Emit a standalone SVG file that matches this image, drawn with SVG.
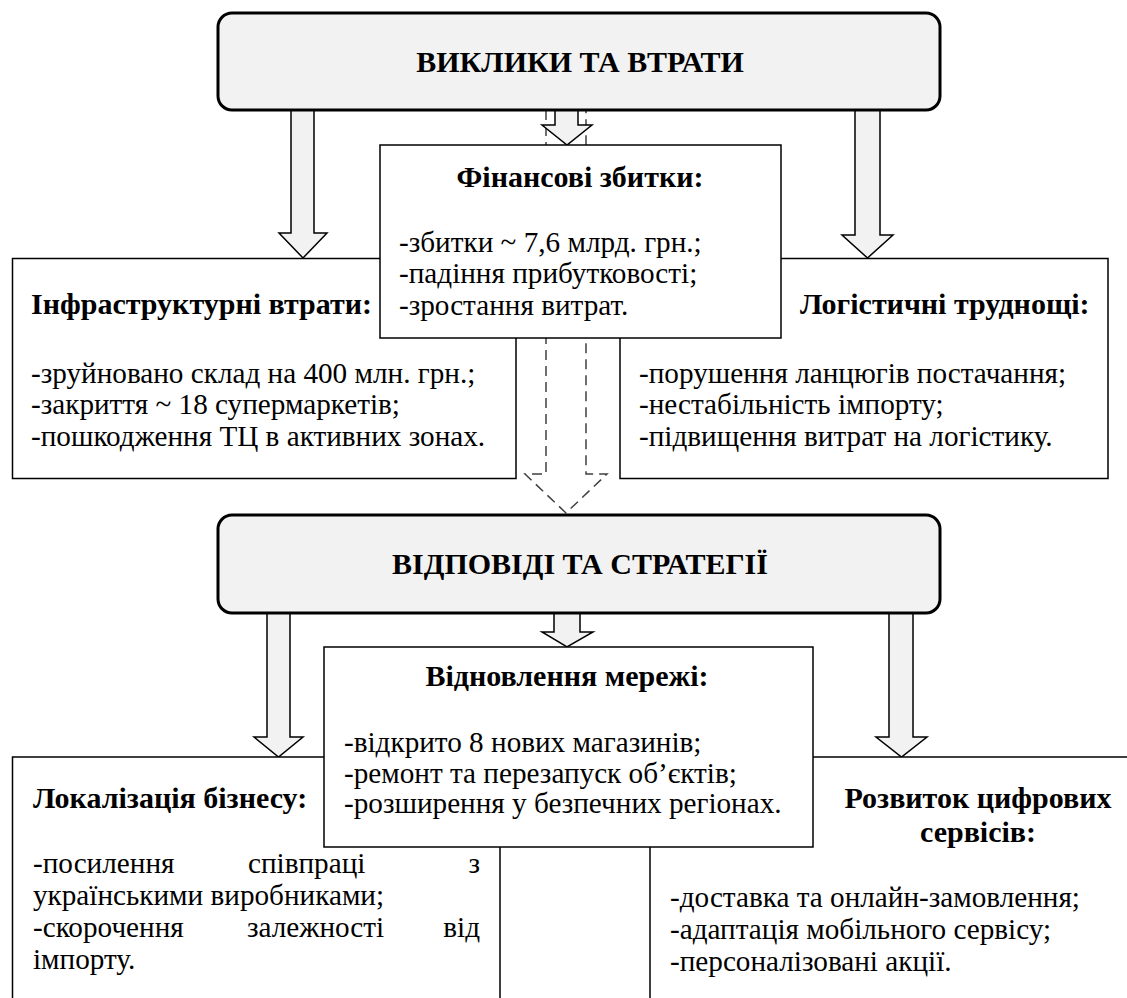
<svg xmlns="http://www.w3.org/2000/svg" width="1127" height="998" viewBox="0 0 1127 998" font-family="Liberation Serif" font-size="29.2">
<style>
.hdr{fill:#f2f2f2;stroke:#000;stroke-width:3}
.box{fill:#fff;stroke:#000;stroke-width:1.5}
.arr{fill:#f2f2f2;stroke:#000;stroke-width:1.5}
.dash{fill:none;stroke:#404040;stroke-width:1.5;stroke-dasharray:10 6}
</style>
<rect width="1127" height="998" fill="#fff"/>
<g id="connectors">
<polyline class="dash" points="546,110 546,474 525,474 566,513 607,474 586,474 586,110"/>
<polygon class="arr" points="291,110 314,110 314,233 327,233 303,258 279,233 291,233"/>
<polygon class="arr" points="855,110 880,110 880,235 893,235 867.5,258 842,235 855,235"/>
<polygon class="arr" points="555,110 578,110 578,125 592,125 567,145 542,125 555,125"/>
<polygon class="arr" points="267,613 290,613 290,737 303,737 278.5,757 254,737 267,737"/>
<polygon class="arr" points="889,613 913,613 913,737 927,737 901.5,757 876,737 889,737"/>
<polygon class="arr" points="554,613 580,613 580,632 593,632 567,647 542,632 554,632"/>
</g>
<g id="header1">
<rect class="hdr" x="218" y="13" width="722" height="97" rx="14"/>
<text font-family="Liberation Serif" font-size="30" font-weight="bold" text-anchor="middle" x="580" y="72">ВИКЛИКИ ТА ВТРАТИ</text>
</g>
<g id="infra">
<rect class="box" x="12.5" y="258.5" width="503.5" height="220"/>
<text font-family="Liberation Serif" font-size="30" font-weight="bold" x="31" y="314">Інфраструктурні втрати:</text>
<text font-family="Liberation Serif" x="31" y="383">-зруйновано склад на 400 млн. грн.;</text>
<text font-family="Liberation Serif" x="31" y="414">-закриття ~ 18 супермаркетів;</text>
<text font-family="Liberation Serif" x="31" y="446">-пошкодження ТЦ в активних зонах.</text>
</g>
<g id="logistics">
<rect class="box" x="620" y="258.5" width="488" height="220"/>
<text font-family="Liberation Serif" font-size="30" font-weight="bold" x="800" y="314">Логістичні труднощі:</text>
<text font-family="Liberation Serif" x="639" y="383">-порушення ланцюгів постачання;</text>
<text font-family="Liberation Serif" x="639" y="414">-нестабільність імпорту;</text>
<text font-family="Liberation Serif" x="639" y="446">-підвищення витрат на логістику.</text>
</g>
<g id="finance">
<rect class="box" x="380" y="145" width="401" height="193"/>
<text font-family="Liberation Serif" font-size="30" font-weight="bold" text-anchor="middle" x="580" y="187">Фінансові збитки:</text>
<text font-family="Liberation Serif" x="399" y="252">-збитки ~ 7,6 млрд. грн.;</text>
<text font-family="Liberation Serif" x="399" y="283">-падіння прибутковості;</text>
<text font-family="Liberation Serif" x="399" y="315">-зростання витрат.</text>
</g>
<g id="header2">
<rect class="hdr" x="218" y="515" width="722" height="98" rx="14"/>
<text font-family="Liberation Serif" font-size="30" font-weight="bold" text-anchor="middle" x="580" y="574">ВІДПОВІДІ ТА СТРАТЕГІЇ</text>
</g>
<g id="localization">
<rect class="box" x="12.5" y="757" width="487.5" height="260"/>
<text font-family="Liberation Serif" font-size="30" font-weight="bold" x="33" y="808">Локалізація бізнесу:</text>
<text font-family="Liberation Serif" y="873"><tspan x="33">-посилення</tspan><tspan x="248">співпраці</tspan><tspan x="480" text-anchor="end">з</tspan></text>
<text font-family="Liberation Serif" x="33" y="905">українськими виробниками;</text>
<text font-family="Liberation Serif" y="937"><tspan x="33">-скорочення</tspan><tspan x="247">залежності</tspan><tspan x="480" text-anchor="end">від</tspan></text>
<text font-family="Liberation Serif" x="33" y="969">імпорту.</text>
</g>
<g id="digital">
<rect class="box" x="650" y="757" width="500" height="260"/>
<text font-family="Liberation Serif" font-size="30" font-weight="bold" text-anchor="middle" x="978" y="808">Розвиток цифрових</text>
<text font-family="Liberation Serif" font-size="30" font-weight="bold" text-anchor="middle" x="978" y="842">сервісів:</text>
<text font-family="Liberation Serif" x="670" y="907">-доставка та онлайн-замовлення;</text>
<text font-family="Liberation Serif" x="670" y="939">-адаптація мобільного сервісу;</text>
<text font-family="Liberation Serif" x="670" y="971">-персоналізовані акції.</text>
</g>
<g id="network">
<rect class="box" x="324" y="647" width="489" height="200"/>
<text font-family="Liberation Serif" font-size="30" font-weight="bold" text-anchor="middle" x="567" y="686">Відновлення мережі:</text>
<text font-family="Liberation Serif" x="344" y="752">-відкрито 8 нових магазинів;</text>
<text font-family="Liberation Serif" x="344" y="783">-ремонт та перезапуск об’єктів;</text>
<text font-family="Liberation Serif" x="344" y="813">-розширення у безпечних регіонах.</text>
</g>
</svg>
